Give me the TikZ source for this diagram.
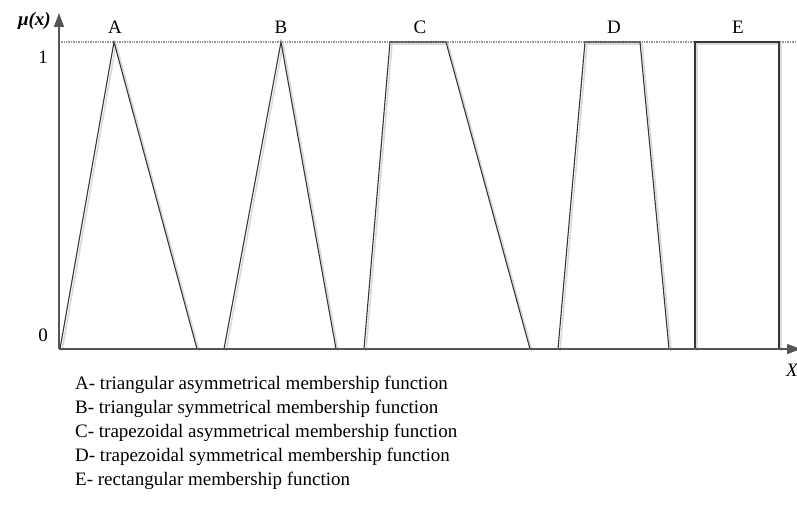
\documentclass[tikz,border=0pt]{standalone}
\usepackage{fontspec}
\setmainfont{Liberation Serif}
\usepackage{xcolor}
\usetikzlibrary{arrows.meta,positioning}
\definecolor{axisgrey}{RGB}{85, 85, 85}
\definecolor{curvegrey}{RGB}{55, 55, 55}
\definecolor{shadowgrey}{RGB}{218, 218, 218}
\definecolor{dotgrey}{RGB}{150, 150, 150}

\begin{document}
\begin{tikzpicture}[x=1pt, y=-1pt, font=\fontsize{19}{22}\selectfont,
  axisline/.style={line width=1.4pt, axisgrey, -{Triangle[length=14pt, width=10pt]}},
  mfline/.style={line width=1.1pt, curvegrey, line join=miter},
  mfshadow/.style={line width=1.6pt, shadowgrey, shift={(2,2)}},
  levelline/.style={line width=2pt, dotgrey, dash pattern=on 1pt off 0.7pt},
  letter/.style={anchor=base, inner sep=0pt}]
  \useasboundingbox (0,0) rectangle (797,513);
  % ---------- axes ----------
  \coordinate (O) at (59,349);
  \coordinate (ytop) at (59,13);
  \coordinate (xend) at (801,349);
  \coordinate (oneL) at (59,42);
  \coordinate (oneR) at (797,42);
  \draw[levelline] (oneL) -- (oneR);
  % ---------- membership functions (shadow first) ----------
  \foreach \sty in {mfshadow, mfline} {
    \draw[\sty] (60,349) -- (114,42) -- (197,349);
    \draw[\sty] (224,349) -- (281,42) -- (336,349);
    \draw[\sty] (364,349) -- (390,42) -- (446,42) -- (530,349);
    \draw[\sty] (558,349) -- (585,42) -- (640,42) -- (669,349);
    \draw[\sty] (695,349) -- (695,42) -- (779,42) -- (779,349);
  }
  \draw[axisline] (O) -- (ytop);
  \draw[axisline] (O) -- (xend);
  % ---------- axis labels ----------
  \node[anchor=base east, inner sep=0pt] (mu) at (51,26) {\textbf{\textit{μ(x)}}};
  \node[letter] (one) at (43,64) {1};
  \node[letter] (zero) at (43,341) {0};
  \node[anchor=base west, inner sep=0pt] (xlab) at (786,376) {\textit{X}};
  % ---------- curve letters ----------
  \foreach \name/\px in {A/115, B/281, C/420, D/614, E/738}
    \node[letter] (lab\name) at (\px,34) {\name};
  % ---------- legend ----------
  \foreach \i/\txt in {0/{A- triangular asymmetrical membership function},
                       1/{B- triangular symmetrical membership function},
                       2/{C- trapezoidal asymmetrical membership function},
                       3/{D- trapezoidal symmetrical membership function},
                       4/{E- rectangular membership function}}
    \node[anchor=base west, inner sep=0pt] (leg\i) at (75,389+24*\i) {\txt};
\end{tikzpicture}
\end{document}
